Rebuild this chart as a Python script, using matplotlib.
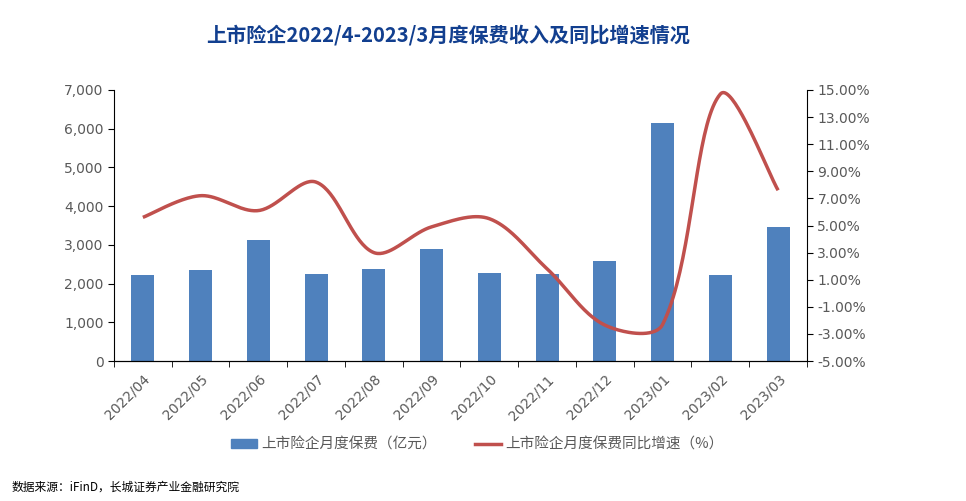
import numpy as np
import matplotlib
matplotlib.use("Agg")
import matplotlib.pyplot as plt
from matplotlib.lines import Line2D
from matplotlib.patches import Patch
from matplotlib.ticker import FuncFormatter, FixedLocator

plt.rcParams['font.family'] = ['DejaVu Sans', 'Noto Sans CJK SC']

months = ['2022/04', '2022/05', '2022/06', '2022/07', '2022/08', '2022/09',
          '2022/10', '2022/11', '2022/12', '2023/01', '2023/02', '2023/03']
premium = [2230, 2350, 3130, 2250, 2380, 2890, 2270, 2250, 2580, 6150, 2220, 3460]
growth = [5.6, 7.2, 6.1, 8.2, 3.0, 4.9, 5.5, 1.8, -2.35, -2.3, 14.7, 7.6]

bar_color = '#4F81BD'
line_color = '#C0504D'
text_color = '#595959'


def excel_smooth(x, y, sx=1.0, sy=1.0, n=40):
    # bezier smoothing, control arms scaled by neighbouring chord lengths (screen units)
    px = np.asarray(x, float) * sx
    py = np.asarray(y, float) * sy
    m = len(px)
    xs, ys = [], []
    for i in range(m - 1):
        a, b = max(i - 1, 0), min(i + 2, m - 1)
        d1 = np.hypot(px[i + 1] - px[i], py[i + 1] - py[i])
        # outgoing control at point i
        d0 = np.hypot(px[i] - px[a], py[i] - py[a])
        tx, ty = px[i + 1] - px[a], py[i + 1] - py[a]
        k = d1 / (d0 + d1) / 3 if d0 > 0 else 1 / 6
        c1 = (px[i] + tx * k, py[i] + ty * k)
        # incoming control at point i+1
        d2 = np.hypot(px[b] - px[i + 1], py[b] - py[i + 1])
        tx, ty = px[b] - px[i], py[b] - py[i]
        k = d1 / (d1 + d2) / 3 if d2 > 0 else 1 / 6
        c2 = (px[i + 1] - tx * k, py[i + 1] - ty * k)
        t = np.linspace(0, 1, n)
        bx = (1 - t) ** 3 * px[i] + 3 * (1 - t) ** 2 * t * c1[0] + 3 * (1 - t) * t ** 2 * c2[0] + t ** 3 * px[i + 1]
        by = (1 - t) ** 3 * py[i] + 3 * (1 - t) ** 2 * t * c1[1] + 3 * (1 - t) * t ** 2 * c2[1] + t ** 3 * py[i + 1]
        xs.extend(bx)
        ys.extend(by)
    return np.array(xs) / sx, np.array(ys) / sy


fig = plt.figure(figsize=(9.66, 5.01), dpi=100)
ax = fig.add_axes([0.118, 0.2794, 0.7174, 0.541])
x = np.arange(len(months))

ax.bar(x, premium, width=0.4, color=bar_color, zorder=2)
ax.set_xlim(-0.5, len(months) - 0.5)
ax.set_ylim(0, 7000)
ax.set_yticks(range(0, 7001, 1000))
ax.yaxis.set_major_formatter(FuncFormatter(lambda v, p: f'{int(v):,}'))
ax.set_xticks(x)
ax.set_xticklabels(months, rotation=45, ha='right', rotation_mode='anchor')
ax.xaxis.set_minor_locator(FixedLocator(np.arange(-0.5, len(months), 1)))
ax.tick_params(axis='x', which='major', length=0, pad=8, labelsize=10, colors=text_color)
ax.tick_params(axis='x', which='minor', length=4, direction='out', color='black')
ax.tick_params(axis='y', length=4, direction='out', labelsize=10, labelcolor=text_color)
ax.spines['top'].set_visible(False)
ax.spines['right'].set_visible(False)

ax2 = ax.twinx()
# pixel scale: ~57.75 px per category, ~13.55 px per percentage point
lx, ly = excel_smooth(x, growth, sx=57.75, sy=13.55)
ax2.plot(lx, ly, color=line_color, linewidth=2.5, solid_capstyle='butt', zorder=3)
ax2.set_ylim(-5, 15)
ax2.set_yticks(np.arange(-5, 15.01, 2))
ax2.yaxis.set_major_formatter(FuncFormatter(lambda v, p: f'{v:.2f}%'))
ax2.tick_params(axis='y', length=4, direction='out', labelsize=10, labelcolor=text_color)
ax2.spines['top'].set_visible(False)
ax2.spines['left'].set_visible(False)

fig.text(0.464, 0.93, '上市险企2022/4-2023/3月度保费收入及同比增速情况',
         ha='center', va='center', fontsize=14.5, fontweight='bold', color='#123F8F',
         family=['Noto Sans CJK SC', 'DejaVu Sans'])

handles = [Patch(color=bar_color), Line2D([0], [0], color=line_color, linewidth=2.5)]
labels = ['上市险企月度保费（亿元）', '上市险企月度保费同比增速（%）']
fig.legend(handles, labels, loc='center', bbox_to_anchor=(0.494, 0.112), ncol=2,
           frameon=False, handlelength=1.8, handleheight=0.55, columnspacing=2.6,
           handletextpad=0.3, labelcolor=text_color,
           prop={'family': ['Noto Sans CJK SC', 'DejaVu Sans'], 'size': 10.5})

fig.text(0.012, 0.027, '数据来源：iFinD，长城证券产业金融研究院', ha='left', va='center',
         fontsize=8.5, color='black', family=['Noto Sans CJK SC', 'DejaVu Sans'])

fig.savefig('out.png', dpi=100)
